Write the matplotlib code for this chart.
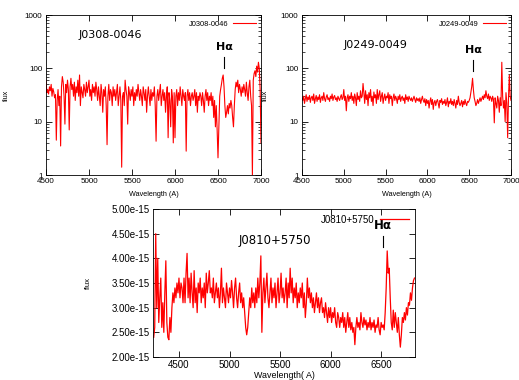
import numpy as np
import matplotlib
matplotlib.use("Agg")
import matplotlib.pyplot as plt
from matplotlib.ticker import FuncFormatter, LogLocator, NullFormatter

# J0308-0046, 10 A steps from 4500 A
start_1 = 4500
flux_1 = [
    60, 35, 40, 33, 45, 38, 50, 30, 42, 36,
    28, 32, 4.5, 25, 40, 20, 30, 3.5, 45, 70,
    55, 30, 9, 50, 35, 60, 40, 7, 45, 65,
    40, 50, 30, 55, 25, 45, 35, 60, 30, 75,
    20, 45, 35, 28, 50, 40, 30, 55, 35, 45,
    60, 30, 40, 25, 50, 35, 45, 30, 55, 40,
    25, 45, 30, 20, 50, 35, 15, 40, 30, 45,
    20, 3.7, 30, 50, 25, 40, 35, 20, 45, 30,
    40, 25, 35, 50, 20, 30, 45, 25, 1.4, 30,
    35, 20, 60, 40, 30, 9, 45, 35, 25, 40,
    30, 45, 20, 35, 25, 40, 30, 50, 35, 25,
    40, 30, 20, 45, 35, 25, 40, 15, 30, 45,
    30, 20, 40, 25, 35, 30, 45, 20, 4.3, 30,
    40, 25, 35, 50, 20, 30, 40, 25, 35, 15,
    30, 45, 5, 35, 25, 8, 40, 30, 4, 35,
    5, 30, 40, 20, 35, 25, 45, 30, 20, 40,
    30, 25, 35, 2.8, 30, 40, 25, 35, 20, 30,
    35, 25, 30, 40, 20, 35, 15, 30, 25, 35,
    30, 20, 35, 25, 15, 30, 40, 25, 35, 20,
    30, 25, 35, 20, 30, 12, 25, 8, 20, 7,
    2.1, 8, 30, 40, 50, 65, 75, 45, 20, 12,
    15, 20, 14, 22, 18, 25, 20, 12, 8, 20,
    40, 55, 45, 60, 35, 50, 40, 30, 45, 35,
    50, 40, 30, 55, 35, 25, 45, 60, 30, 20,
    1.0, 60, 80, 90, 70, 110, 85, 130, 100, 40,
    4,
]

# J0249-0049, 10 A steps from 4500 A
start_2 = 4500
flux_2 = [
    28, 25, 30, 22, 27, 32, 24, 29, 26, 31,
    23, 28, 30, 25, 33, 22, 27, 31, 24, 29,
    26, 32, 23, 28, 30, 25, 35, 27, 24, 29,
    32, 26, 28, 24, 30, 27, 33, 25, 29, 31,
    26, 28, 24, 30, 27, 25, 29, 32, 26, 28,
    40, 25, 30, 16, 28, 32, 24, 30, 27, 35,
    25, 30, 22, 33, 28, 20, 35, 26, 30, 24,
    38, 28, 30, 52, 35, 22, 38, 26, 32, 20,
    35, 28, 40, 24, 30, 20, 36, 28, 32, 22,
    40, 26, 32, 38, 24, 30, 35, 22, 28, 33,
    25, 30, 28, 35, 22, 32, 27, 30, 20, 28,
    33, 25, 30, 27, 22, 30, 26, 32, 24, 28,
    30, 25, 28, 22, 32, 26, 29, 24, 30, 27,
    25, 28, 24, 27, 30, 26, 23, 28, 25, 27,
    24, 28, 22, 26, 30, 25, 23, 27, 20, 26,
    22, 25, 18, 24, 28, 21, 26, 17, 23, 25,
    20, 24, 26, 22, 18, 25, 23, 27, 21, 24,
    22, 26, 20, 23, 28, 19, 24, 22, 27, 21,
    24, 20, 26, 22, 18, 25, 21, 30, 23, 20,
    22, 25, 19, 24, 21, 26, 22, 20, 24, 23,
    25, 28, 35, 45, 65, 40, 28, 24, 20, 22,
    26, 22, 25, 28, 24, 27, 30, 26, 32, 28,
    38, 30, 27, 33, 25, 30, 28, 24, 30, 26,
    9.5, 28, 22, 18, 30, 25, 15, 28, 20, 130,
    30, 18, 25, 10, 35, 22, 5, 28, 75, 30,
    25,
]

# J0810+5750, 10 A steps from 4250 A, in units of 1e-15
start_3 = 4250
flux_3 = [
    2.4, 2.6, 4.5, 3.0, 4.0, 2.7, 3.2, 3.6, 2.6, 3.1,
    2.5, 3.3, 3.95, 2.7, 2.4, 2.35, 2.8, 2.5, 3.0, 3.3,
    3.1, 3.4, 3.2, 3.5, 3.3, 3.6, 3.2, 3.5, 3.4, 3.1,
    3.6, 3.1, 3.7, 4.1, 3.2, 3.6, 3.1, 3.7, 3.3, 3.0,
    3.75, 3.1, 3.4, 2.9, 3.5, 3.3, 3.6, 3.1, 3.4, 3.2,
    3.5, 3.0, 3.7, 3.3, 3.5, 3.75, 3.3, 3.4, 3.2, 3.6,
    3.1, 3.3, 3.5, 3.2, 3.4, 3.0, 3.3, 3.8, 3.1, 3.4,
    3.2, 3.0, 3.5, 3.3, 3.1, 3.4, 3.2, 3.55, 3.3, 3.0,
    3.4, 3.6, 3.2, 3.0, 3.3, 3.5, 3.1, 3.3, 3.0, 3.2,
    2.9, 2.6, 2.45, 2.6, 2.9, 3.2, 3.0, 3.4, 3.1, 3.3,
    3.0, 3.4, 3.1, 3.6, 3.2, 3.5, 4.05, 2.5, 3.3, 3.6,
    3.1, 3.4, 3.7, 3.2, 3.0, 3.3, 3.6, 3.1, 3.4, 3.2,
    3.5, 3.0, 3.3, 3.6, 3.1, 3.3, 3.7, 3.2, 3.4, 3.1,
    3.3, 3.6, 3.0, 3.5, 3.2, 3.8, 3.3, 3.6, 3.1, 3.4,
    3.2, 3.5, 3.0, 3.3, 3.1, 3.4, 3.2, 3.5, 3.0, 3.3,
    2.8, 3.1, 3.6, 3.2, 3.4, 3.1, 3.3, 3.0, 3.2, 2.9,
    3.1, 3.3, 3.0, 3.2, 2.9, 3.1, 3.2, 2.9, 3.0, 2.8,
    3.1, 2.9, 2.7, 3.0, 2.8, 3.0, 2.7, 2.9, 2.8, 3.0,
    2.7, 2.6, 2.9, 2.8, 2.6, 2.8, 2.7, 2.9, 2.6, 2.8,
    2.5, 2.7, 2.9, 2.6, 2.8, 2.55, 2.7, 2.5, 2.6, 2.25,
    2.6, 2.8, 2.6, 2.7, 2.55, 2.9, 2.7, 2.6, 2.8, 2.65,
    2.75, 2.55, 2.7, 2.6, 2.8, 2.55, 2.7, 2.6, 2.75, 2.5,
    2.65, 2.6, 2.8, 2.55, 2.45, 2.7, 2.6, 2.65, 2.55, 2.9,
    3.4, 4.15, 3.7, 3.8, 3.2, 2.7, 2.55, 2.95, 2.6, 2.9,
    2.7, 2.5, 2.8, 2.45, 2.2, 2.45, 2.8, 2.7, 2.9, 2.75,
    3.0, 2.85, 3.1, 3.05, 3.3, 3.15, 3.4, 3.55, 3.6,
]

names = ["J0308-0046", "J0249-0049", "J0810+5750"]
top_ticks = [4500, 5000, 5500, 6000, 6500, 7000]
bottom_ticks = [4500, 5000, 5500, 6000, 6500]
RED = "#ff0000"
SMALL = "Liberation Sans"
W, H = 519, 380


def px_axes(fig, left, top, right, bottom):
    return fig.add_axes([left / W, 1 - bottom / H, (right - left) / W, (bottom - top) / H])


def style(ax, size):
    ax.tick_params(which="both", direction="in", top=True, right=True,
                   labelsize=size, pad=2.5)
    ax.tick_params(which="major", length=4, width=0.6)
    ax.tick_params(which="minor", length=2, width=0.5)
    for lab in ax.get_xticklabels() + ax.get_yticklabels():
        lab.set_family(SMALL)
    for s in ax.spines.values():
        s.set_linewidth(0.6)


fig = plt.figure(figsize=(W / 100, H / 100), dpi=100)

ax1 = px_axes(fig, 46, 15, 261, 175)
ax2 = px_axes(fig, 302, 15, 511, 175)
ax3 = px_axes(fig, 153, 209, 415, 357)

for ax, start, flux, name in [(ax1, start_1, flux_1, names[0]),
                               (ax2, start_2, flux_2, names[1])]:
    wave = start + 10 * np.arange(len(flux))
    ax.plot(wave, flux, color=RED, lw=0.8, label=name)
    ax.set_yscale("log")
    ax.set_xlim(4500, 7000)
    ax.set_ylim(1, 1000)
    ax.set_xticks(top_ticks)
    ax.set_yticks([1, 10, 100, 1000])
    ax.set_yticklabels(["1", "10", "100", "1000"])
    ax.yaxis.set_minor_locator(LogLocator(base=10, subs=np.arange(2, 10)))
    ax.yaxis.set_minor_formatter(NullFormatter())
    ax.set_xlabel("Wavelength (A)", fontsize=5.2, family=SMALL)
    ax.xaxis.set_label_coords(0.5, -0.10)
    ax.set_ylabel("flux", fontsize=5.2, family=SMALL)
    style(ax, 5.8)
    ax.legend(loc="upper right", frameon=False, prop={"family": SMALL, "size": 5.4},
              markerfirst=False, handlelength=3, borderaxespad=0.3, handletextpad=0.6)

ax1.yaxis.set_label_coords(-0.167, 0.5)
ax2.yaxis.set_label_coords(-0.158, 0.5)

wave3 = start_3 + 10 * np.arange(len(flux_3))
ax3.plot(wave3, np.array(flux_3) * 1e-15, color=RED, lw=0.9, label=names[2])
ax3.set_xlim(4243, 6835)
ax3.set_ylim(2e-15, 5e-15)
ax3.set_xticks(bottom_ticks)
ax3.set_yticks(np.arange(2.0, 5.01, 0.5) * 1e-15)
ax3.yaxis.set_major_formatter(FuncFormatter(lambda v, p: f"{v:.2e}"))
ax3.set_xlabel("Wavelength( A)", fontsize=6.4, family=SMALL)
ax3.xaxis.set_label_coords(0.5, -0.092)
ax3.set_ylabel("flux", fontsize=5.6, family=SMALL)
ax3.yaxis.set_label_coords(-0.233, 0.5)
style(ax3, 7)
ax3.legend(loc="upper right", frameon=False, prop={"family": SMALL, "size": 7},
           markerfirst=False, handlelength=3, borderaxespad=0.2, handletextpad=0.6)

# object names and H-alpha markers (axes fraction positions)
ax1.text(0.30, 0.875, names[0], transform=ax1.transAxes, fontsize=8,
         ha="center", va="center")
ax1.text(0.83, 0.80, "H\u03b1", transform=ax1.transAxes, fontsize=8,
         fontweight="bold", ha="center", va="center")
ax1.plot([0.83, 0.83], [0.74, 0.67], transform=ax1.transAxes, color="black", lw=0.8)

ax2.text(0.35, 0.81, names[1], transform=ax2.transAxes, fontsize=8,
         ha="center", va="center")
ax2.text(0.82, 0.78, "H\u03b1", transform=ax2.transAxes, fontsize=8,
         fontweight="bold", ha="center", va="center")
ax2.plot([0.82, 0.82], [0.72, 0.65], transform=ax2.transAxes, color="black", lw=0.8)

ax3.text(0.466, 0.79, names[2], transform=ax3.transAxes, fontsize=8.5,
         ha="center", va="center")
ax3.text(0.878, 0.89, "H\u03b1", transform=ax3.transAxes, fontsize=8.5,
         fontweight="bold", ha="center", va="center")
ax3.plot([0.878, 0.878], [0.82, 0.74], transform=ax3.transAxes, color="black", lw=0.8)

fig.savefig("out.png", dpi=100)
